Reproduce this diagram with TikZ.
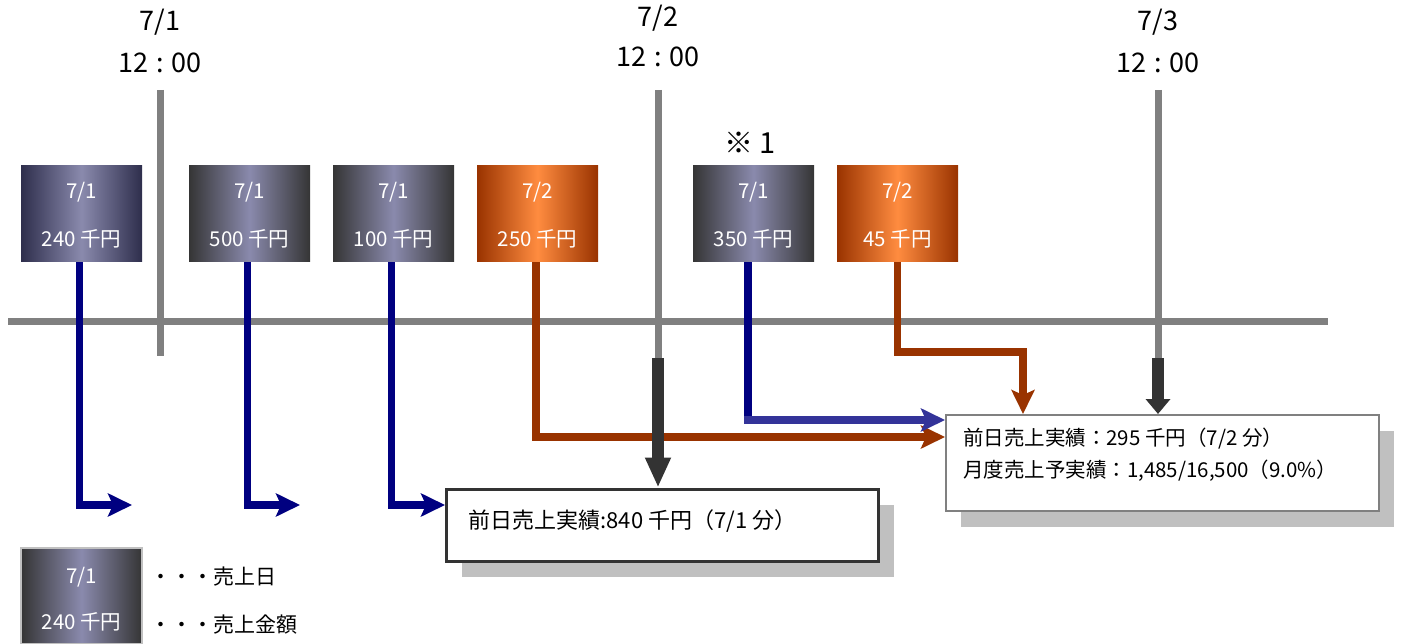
\documentclass[tikz,border=0pt]{standalone}
\usepackage{fontspec}
\newfontfamily\jp{Noto Sans CJK JP}
\usetikzlibrary{arrows.meta,shadows,calc}
\definecolor{navyc}{HTML}{000080}
\definecolor{bluec}{HTML}{333399}
\definecolor{orgc}{HTML}{993300}
\definecolor{orglight}{HTML}{FF8C40}
\definecolor{grayc}{HTML}{808080}
\definecolor{darkc}{HTML}{333333}
\definecolor{shadowc}{HTML}{C0C0C0}
\definecolor{lav}{HTML}{8A8AAD}
\definecolor{edgeblue}{HTML}{2E2E4C}
\definecolor{edgegray}{HTML}{353535}
\newcommand{\jfs}[1]{\jp\fontsize{#1}{#1}\selectfont}
\newcommand{\salenode}[5]{%
  \node[salebox,#3] (#1) at (#2,214) {};
  \node[saletext] (#1d) at ([yshift=22pt]#1.center) {#4};
  \node[saletext] (#1a) at ([yshift=-25pt]#1.center) {#5};
}
\tikzset{
  salebox/.style={minimum width=121pt, minimum height=96pt, inner sep=0pt},
  gradblue/.style={left color=#1, right color=#1, middle color=lav},
  gradorg/.style={left color=orgc, right color=orgc, middle color=orglight},
  saletext/.style={font=\jfs{20.5pt}, text=white, inner sep=0pt},
  timetext/.style={font=\jfs{27pt}, inner sep=0pt},
  gline/.style={draw=grayc, line width=7pt},
  navyline/.style={draw=navyc, line width=7.5pt},
  blueline/.style={draw=bluec, line width=7.5pt},
  orgline/.style={draw=orgc, line width=7.5pt},
  tip/.style={-{Stealth[length=24pt, width=23pt, inset=5pt]}},
  darkarrow/.style={draw=darkc, line width=12pt, -{Triangle[length=#1, width=24pt]}},
  resbox/.style={draw, fill=white, inner sep=0pt,
    drop shadow={shadow xshift=15pt, shadow yshift=-16pt, fill=shadowc, opacity=1}},
  legtext/.style={font=\jfs{21pt}, inner sep=0pt, anchor=west},
}
\begin{document}
\begin{tikzpicture}[x=1pt,y=-1pt]
\useasboundingbox (0,0) rectangle (1402,644);
% time axis
\draw[gline] (8,321) -- (1328,321);
\coordinate (v1a) at (160,90); \coordinate (v1b) at (160,356);
\coordinate (v2a) at (658,90); \coordinate (v2b) at (658,358);
\coordinate (v3a) at (1158,90); \coordinate (v3b) at (1158,358);
\draw[gline] (v1a) -- (v1b);
\draw[gline] (v2a) -- (v2b);
\draw[gline] (v3a) -- (v3b);
% time labels
\node[timetext] (t1d) at (160,22) {7/1};
\node[timetext] (t1h) at (160,63) {12\hspace{0.3em}:\hspace{0.3em}00};
\node[timetext] (t2d) at (658,18) {7/2};
\node[timetext] (t2h) at (658,57) {12\hspace{0.3em}:\hspace{0.3em}00};
\node[timetext] (t3d) at (1158,22) {7/3};
\node[timetext] (t3h) at (1158,63) {12\hspace{0.3em}:\hspace{0.3em}00};
\node[timetext, font=\jfs{29pt}] (note) at (750,143) {※\hspace{0.2em}1};
% sale boxes
\salenode{b1}{81.5}{gradblue=edgeblue}{7/1}{240 千円}
\salenode{b2}{249.5}{gradblue=edgegray}{7/1}{500 千円}
\salenode{b3}{393.5}{gradblue=edgegray}{7/1}{100 千円}
\salenode{b4}{537.5}{gradorg}{7/2}{250 千円}
\salenode{b5}{753.5}{gradblue=edgegray}{7/1}{350 千円}
\salenode{b6}{897.5}{gradorg}{7/2}{45 千円}
% result boxes
\node[resbox, draw=darkc, line width=3pt, minimum width=432pt, minimum height=72pt,
      inner xsep=22pt, text depth=12pt, font=\jfs{22pt}, anchor=west] (r1) at (445,525)
  {\makebox[388pt][l]{前日売上実績:840 千円（7/1 分）}};
\node[resbox, draw=grayc, line width=2pt, inner xsep=17pt,
      font={\jp\fontsize{20.5pt}{32pt}\selectfont}, anchor=north west] (r2) at (945,414)
  {\parbox[c][96pt][t]{399pt}{\vspace*{13pt}前日売上実績：295 千円（7/2 分）\\月度売上予実績：1,485/16,500（9.0\%）}};
% connectors
\coordinate (e1) at (132,505);
\coordinate (e2) at (300,505);
\draw[navyline, tip] ([xshift=-2pt]b1.south) |- (e1);
\draw[navyline, tip] ([xshift=-2pt]b2.south) |- (e2);
\draw[navyline, tip] ([xshift=-2pt]b3.south) |- (r1.west |- e1);
\coordinate (k4) at (536,437);
\draw[orgline, tip] ([xshift=-1.5pt]b4.south) |- (r2.west |- k4);
\coordinate (k5) at (748,420);
\draw[navyline] ([xshift=-5.5pt]b5.south) -- ([yshift=-3.75pt]k5);
\draw[blueline, tip] ([xshift=-3.75pt]k5) -- (r2.west |- k5);
\coordinate (k6) at (1023,352);
\draw[orgline, tip] (b6.south) |- (k6) -- (k6 |- r2.north);
% dark arrows
\draw[darkarrow=30pt] (v2b) -- (v2b |- r1.north);
\draw[darkarrow=15pt] (v3b) -- (v3b |- r2.north);
% legend
\node[salebox, gradblue=edgegray, draw=shadowc, line width=1.5pt] (lg) at (81.5,596) {};
\node[saletext] (lgd) at ([yshift=19pt]lg.center) {7/1};
\node[saletext] (lga) at ([yshift=-26pt]lg.center) {240 千円};
\node[legtext] (l1) at (150,577) {・・・売上日};
\node[legtext] (l2) at (150,625) {・・・売上金額};
\end{tikzpicture}
\end{document}
